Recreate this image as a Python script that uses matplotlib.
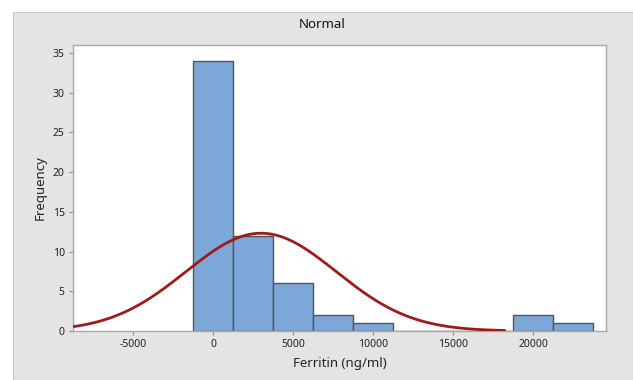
import numpy as np
import matplotlib
matplotlib.use("Agg")
import matplotlib.pyplot as plt
from matplotlib.patches import Rectangle

plt.rcParams['font.family'] = ['Noto Sans', 'DejaVu Sans']
plt.rcParams['axes.unicode_minus'] = False

# Data
bin_edges = [-1250, 1250, 3750, 6250, 8750, 11250, 13750, 16250, 18750, 21250, 23750]
counts = [34, 12, 6, 2, 1, 0, 0, 0, 2, 1]
fit_mean = 3000.0
fit_std = 4700.0
x_ticks = [-5000, 0, 5000, 10000, 15000, 20000]
y_ticks = [0, 5, 10, 15, 20, 25, 30, 35]

fig = plt.figure(figsize=(6.33, 3.8), dpi=100)
fig.patch.set_facecolor('white')
fig.patches.append(Rectangle((13/633, 0), 1 - 13/633, 1 - 12/380,
                             transform=fig.transFigure, facecolor='#E4E4E4',
                             edgecolor='#C8C8C8', linewidth=0.8, zorder=-10))

ax = fig.add_axes([73/633, (380-331)/380, (606-73)/633, (331-45)/380])
ax.set_zorder(5)
ax.set_facecolor('white')

widths = np.diff(bin_edges)
ax.bar(bin_edges[:-1], counts, width=widths, align='edge',
       color='#7BA7D9', edgecolor='#555555', linewidth=1.0, zorder=2)

xlim = (-8750, 24550)
xs = np.linspace(xlim[0], 18200, 400)
n = sum(counts)
bw = widths[0]
ys = n * bw / (fit_std * np.sqrt(2 * np.pi)) * np.exp(-0.5 * ((xs - fit_mean) / fit_std) ** 2)
ax.plot(xs, ys, color='#9E1B1B', linewidth=2.0, zorder=3)

ax.set_xlim(*xlim)
ax.set_ylim(0, 36)
ax.set_xticks(x_ticks)
ax.set_yticks(y_ticks)
ax.tick_params(axis='both', labelsize=7.5, colors='#222222', length=3,
               width=0.8, color='#8A8A8A', pad=3)
for s in ax.spines.values():
    s.set_color('#A8A8A8')
    s.set_linewidth(1.0)

ax.set_xlabel('Ferritin (ng/ml)', fontsize=9.5, color='#222222', labelpad=5)
ax.set_ylabel('Frequency', fontsize=9.5, color='#222222', labelpad=4)
fig.text(322/633, 1 - 25/380, 'Normal', ha='center', va='center',
         fontsize=9.5, color='#111111', zorder=10)

fig.savefig('out.png', dpi=100)
